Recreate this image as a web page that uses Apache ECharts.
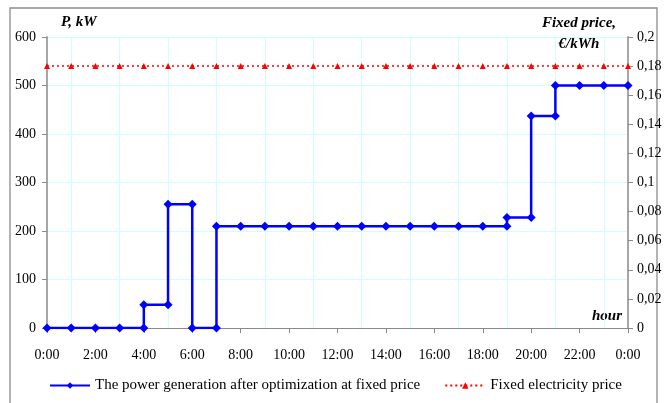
<!DOCTYPE html>
<html>
<head>
<meta charset="utf-8">
<script src="https://cdn.jsdelivr.net/npm/echarts@6/dist/echarts.min.js"></script>
<style>
html,body{margin:0;padding:0;background:#fff;}
#chart{width:665px;height:403px;}
</style>
</head>
<body>
<div id="chart"></div>
<script>
// ---- data ----
const hourLabels = ["0:00","1:00","2:00","3:00","4:00","5:00","6:00","7:00","8:00","9:00","10:00","11:00","12:00",
  "13:00","14:00","15:00","16:00","17:00","18:00","19:00","20:00","21:00","22:00","23:00","0:00"];
// power level (kW) set at each hour (held until the next hour)
const powerLevels = [0,0,0,0,48,255,0,210,210,210,210,210,210,210,210,210,210,210,210,228,437,500,500,500,500];
// fixed electricity price (€/kWh) at each hour
const priceValues = [0.18,0.18,0.18,0.18,0.18,0.18,0.18,0.18,0.18,0.18,0.18,0.18,0.18,
  0.18,0.18,0.18,0.18,0.18,0.18,0.18,0.18,0.18,0.18,0.18,0.18];
const powerTicks = [0,100,200,300,400,500,600];

const seriesNames = ["The power generation after optimization at fixed price","Fixed electricity price"];

// build stepped vertices (markers at both ends of each vertical jump)
const powerPoints = [];
powerLevels.forEach((v, i) => {
  if (i > 0 && v !== powerLevels[i-1]) powerPoints.push([i, powerLevels[i-1]]);
  powerPoints.push([i, v]);
});
const pricePoints = priceValues.map((v, i) => [i, v]);

const FONT = "Liberation Serif";
const chart = echarts.init(document.getElementById('chart'), null, {renderer:'canvas'});
chart.setOption({
  animation: false,
  backgroundColor: '#ffffff',
  textStyle: {fontFamily: FONT, color: '#000'},
  grid: {left: 47, right: 37, top: 37, bottom: 75, containLabel: false},
  xAxis: {
    type: 'category',
    data: hourLabels,
    boundaryGap: false,
    axisLine: {lineStyle: {color: '#8a8a8a', width: 1.2}},
    axisTick: {show: true, interval: 1, length: 5, lineStyle: {color: '#8a8a8a'}},
    axisLabel: {interval: 1, margin: 20, fontFamily: FONT, fontSize: 14, color: '#000'},
    splitLine: {show: true, interval: (idx) => idx % 2 === 1, lineStyle: {color: '#ccffff', width: 1}}
  },
  yAxis: [
    {
      type: 'value', min: powerTicks[0], max: powerTicks[powerTicks.length-1], interval: 100,
      axisLine: {show: true, lineStyle: {color: '#a6a6a6', width: 2}},
      axisTick: {show: true, length: 5, lineStyle: {color: '#8a8a8a'}},
      axisLabel: {margin: 11, fontFamily: FONT, fontSize: 14, color: '#000'},
      splitLine: {show: true, lineStyle: {color: '#ccffff', width: 1}}
    },
    {
      type: 'value', min: 0, max: 0.2, interval: 0.02, position: 'right',
      axisLine: {show: true, lineStyle: {color: '#a6a6a6', width: 2}},
      axisTick: {show: true, length: 5, lineStyle: {color: '#8a8a8a'}},
      axisLabel: {margin: 9, fontFamily: FONT, fontSize: 14, color: '#000',
        formatter: v => String(+v.toFixed(2)).replace('.', ',')},
      splitLine: {show: false}
    }
  ],
  legend: {
    left: 44, top: 373, itemGap: 24, itemWidth: 40, itemHeight: 8,
    textStyle: {fontFamily: FONT, fontSize: 15, color: '#000'},
    data: seriesNames
  },
  series: [
    {
      name: seriesNames[0], type: 'line', xAxisIndex: 0, yAxisIndex: 0,
      data: powerPoints,
      symbol: 'diamond', symbolSize: 9,
      lineStyle: {color: '#0000ff', width: 2.5},
      itemStyle: {color: '#0000ff'},
      z: 3
    },
    {
      name: seriesNames[1], type: 'line', xAxisIndex: 0, yAxisIndex: 1,
      data: pricePoints,
      symbol: 'triangle', symbolSize: 6,
      lineStyle: {color: '#ff0000', width: 1.5, type: [2, 3]},
      itemStyle: {color: '#ff0000'},
      z: 2
    }
  ],
  graphic: [
    {type: 'rect', shape: {x: 10, y: 8, width: 647, height: 400}, style: {fill: 'none', stroke: '#8c8c8c', lineWidth: 1.3}, z: -1, silent: true},
    {type: 'text', left: 61, top: 15, style: {text: 'P, kW', font: 'italic bold 15px "Liberation Serif"', fill: '#000'}},
    {type: 'text', x: 579, y: 23, style: {text: 'Fixed price,', font: 'italic bold 15px "Liberation Serif"', fill: '#000', textAlign: 'center', textVerticalAlign: 'middle'}},
    {type: 'text', x: 579, y: 44, style: {text: '€/kWh', font: 'italic bold 15px "Liberation Serif"', fill: '#000', textAlign: 'center', textVerticalAlign: 'middle'}},
    {type: 'text', x: 622, y: 316, style: {text: 'hour', font: 'italic bold 15px "Liberation Serif"', fill: '#000', textAlign: 'right', textVerticalAlign: 'middle'}}
  ]
});
</script>
</body>
</html>
